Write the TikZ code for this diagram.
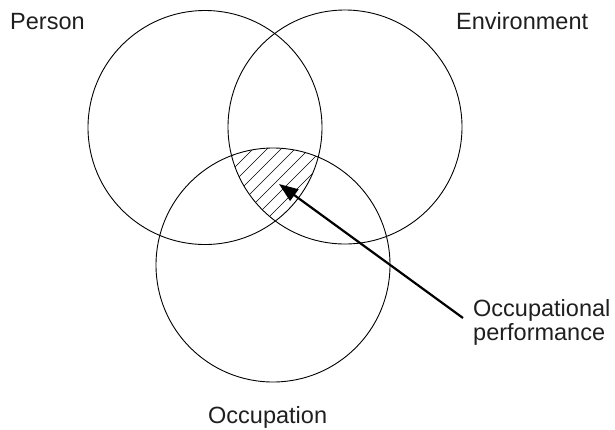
\documentclass[tikz,border=0pt]{standalone}
\usepackage{fontspec}
\setmainfont{Liberation Sans}
\usetikzlibrary{arrows.meta}
\usetikzlibrary{positioning}

\tikzset{
  ring/.style={draw, circle, minimum size=234pt, inner sep=0pt, line width=0.9pt},
  tag/.style={inner sep=0pt, anchor=base west, text=black!88, font=\fontsize{23.5}{23.5}\selectfont},
  hatch/.style={line width=0.6pt},
  pointer/.style={line width=2.2pt, -{Triangle[length=19pt, width=14pt]}}
}

\begin{document}
\begin{tikzpicture}[x=1pt, y=-1pt]
  \useasboundingbox (0,0) rectangle (615,429);
  % node[Optionen] (A) {};
  \node[ring] (person) at (205,127.5) {};
  \node[ring] (environment) at (345,127) {};
  \node[ring] (occupation) at (273,265) {};

  % Schnittmenge schraffiert
  \begin{scope}
    \clip (person.center) circle (117pt);
    \clip (environment.center) circle (117pt);
    \clip (occupation.center) circle (117pt);
    \foreach \k in {100,114,...,340}
      \draw[hatch] (\k,260) -- ++(130,-130);
  \end{scope}

  \node[tag] (personlabel) at (10,29) {Person};
  \node[tag] (envlabel) at (456,29) {Environment};
  \node[tag] (occlabel) at (208,423) {Occupation};
  \node[tag, align=left] (perf) at (473,340) {Occupational\\performance};

  \coordinate (tail) at (463,318);
  \coordinate (tip) at (279,184);
  \draw[pointer] (tail) -- (tip);
\end{tikzpicture}
\end{document}
